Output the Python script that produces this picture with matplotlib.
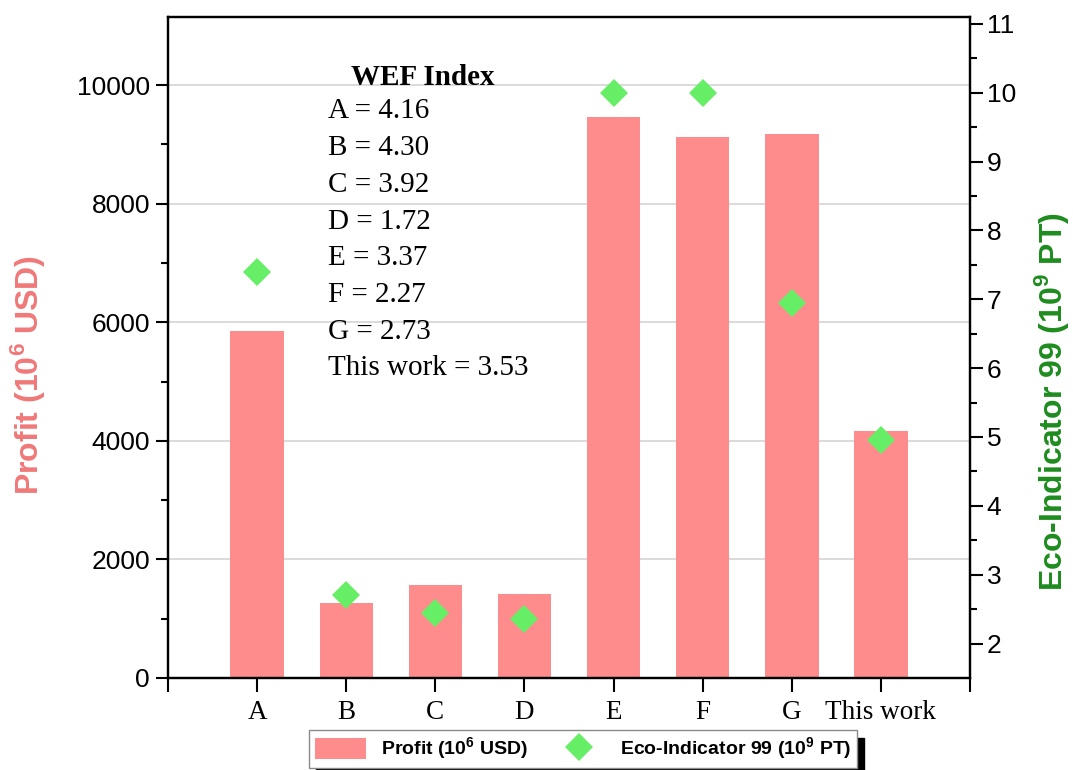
import numpy as np
import matplotlib
matplotlib.use("Agg")
import matplotlib.pyplot as plt

plt.rcParams['font.family'] = ['Liberation Sans', 'DejaVu Sans']
plt.rcParams['mathtext.fontset'] = 'custom'
plt.rcParams['mathtext.rm'] = 'Liberation Sans'
plt.rcParams['mathtext.bf'] = 'Liberation Sans:bold'

# data
cases = ['A', 'B', 'C', 'D', 'E', 'F', 'G', 'This work']
profit = [5850, 1270, 1560, 1420, 9460, 9120, 9170, 4160]        # 10^6 USD
eco99 = [7.40, 2.70, 2.44, 2.36, 10.0, 10.0, 6.95, 4.95]         # 10^9 PT
wef_labels = ['A', 'B', 'C', 'D', 'E', 'F', 'G', 'This work']
wef_values = ['4.16', '4.30', '3.92', '1.72', '3.37', '2.27', '2.73', '3.53']

bar_color = '#FF8C8C'
marker_color = '#66EE66'
serif = ['Liberation Serif', 'DejaVu Serif']

fig, ax = plt.subplots(figsize=(10.73, 7.7), dpi=100)
fig.subplots_adjust(left=0.1566, right=0.904, bottom=0.1195, top=0.978)

x = np.arange(1, len(cases) + 1)
bars = ax.bar(x, profit, width=0.6, color=bar_color, zorder=2)

ax.set_xlim(0, 9)
ax.set_ylim(0, 11150)
ax.set_xticks(np.arange(0, 10))
ax.set_xticklabels([''] + cases + [''], fontfamily=serif, fontsize=19.5)
ax.set_yticks(np.arange(0, 10001, 2000))
ax.set_yticks(np.arange(1000, 11000, 2000), minor=True)
ax.tick_params(axis='y', which='major', length=9, width=1.5, labelsize=19, pad=4)
ax.tick_params(axis='y', which='minor', length=5, width=1.5)
ax.tick_params(axis='x', which='major', length=10, width=1.5, pad=6)
ax.grid(axis='y', which='major', color='#D4D4D4', linewidth=1.2)
ax.set_axisbelow(True)
ax.set_ylabel(r'Profit (10$^{\mathbf{6}}$ USD)', color='#F07878',
              fontsize=23, fontweight='bold')
ax.yaxis.set_label_coords(-0.151, 0.458)

ax2 = ax.twinx()
pts, = ax2.plot(x, eco99, 'D', color=marker_color, markersize=14,
                markeredgewidth=0, zorder=3)
ax2.set_ylim(1.5, 11.1)
ax2.set_yticks(np.arange(2, 12, 1))
ax2.set_yticks(np.arange(2.5, 11, 1), minor=True)
ax2.tick_params(axis='y', which='major', length=9, width=1.5, labelsize=19, pad=3)
ax2.tick_params(axis='y', which='minor', length=5, width=1.5)
ax2.set_ylabel(r'Eco-Indicator 99 (10$^{\mathbf{9}}$ PT)', color='#1E8C1E',
               fontsize=23, fontweight='bold')
ax2.yaxis.set_label_coords(1.077, 0.4175)

for a in (ax, ax2):
    for s in a.spines.values():
        s.set_linewidth(1.6)

# WEF index annotation
ax.text(0.318, 0.909, 'WEF Index', transform=ax.transAxes, ha='center',
        va='center', fontfamily=serif, fontsize=21, fontweight='bold')
for i, (lab, val) in enumerate(zip(wef_labels, wef_values)):
    ax.text(0.1995, 0.857 - i * 0.0555, f'{lab} = {val}', transform=ax.transAxes,
            ha='left', va='center', fontfamily=serif, fontsize=21)

leg = fig.legend([bars, pts], [r'Profit (10$^{\mathbf{6}}$ USD)',
                               r'Eco-Indicator 99 (10$^{\mathbf{9}}$ PT)'],
                 loc='center', bbox_to_anchor=(0.5435, 0.0273), ncol=2,
                 prop={'weight': 'bold', 'size': 14}, fancybox=False,
                 edgecolor='#8A8A8A', framealpha=1, borderpad=0.3,
                 handlelength=2.6, handleheight=1.3, columnspacing=1.3,
                 handletextpad=0.8,
                 shadow={'color': 'black', 'alpha': 1, 'ox': 5, 'oy': -6})
leg.get_frame().set_linewidth(1.0)

fig.savefig('out.png', dpi=100)
